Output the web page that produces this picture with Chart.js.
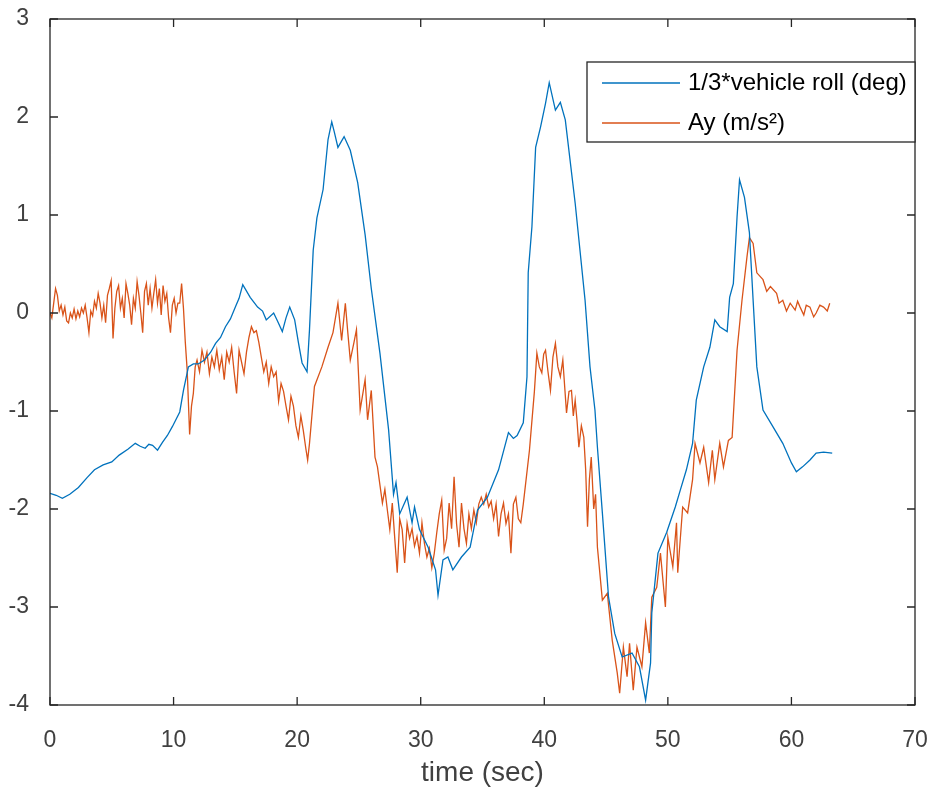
<!DOCTYPE html>
<html>
<head>
<meta charset="utf-8">
<title>vehicle roll vs Ay</title>
<script src="https://cdn.jsdelivr.net/npm/chart.js@4.4.1/dist/chart.umd.min.js"></script>
<style>
  body { margin: 0; background: #fff; }
  canvas { display: block; }
</style>
</head>
<body>
<canvas id="rollChart" width="935" height="792"></canvas>
<script>
// 1/3*vehicle roll (deg)
const rollTime = [0.0, 0.5, 1.0, 1.6, 2.3, 3.0, 3.6, 4.3, 5.0, 5.6, 6.3, 6.9, 7.3, 7.7, 8.0, 8.3, 8.7, 9.1, 9.5, 9.9,
  10.5, 10.8, 11.2, 11.6, 12.0, 12.5, 13.0, 13.4, 13.8, 14.2, 14.6, 15.0, 15.3, 15.6, 16.2, 16.8, 17.2, 17.5, 18.1, 18.4,
  18.8, 19.1, 19.4, 19.8, 20.1, 20.4, 20.8, 21.0, 21.3, 21.6, 22.1, 22.5, 22.8, 23.0, 23.3, 23.8, 24.3, 24.9, 25.5, 26.0,
  26.7, 27.4, 27.8, 28.0, 28.3, 28.9, 29.3, 29.5, 29.9, 30.6, 31.2, 31.4, 31.8, 32.2, 32.6, 33.3, 34.0, 34.6, 35.4, 36.3,
  37.1, 37.5, 37.8, 38.3, 38.6, 38.7, 39.0, 39.3, 39.7, 40.1, 40.4, 40.9, 41.3, 41.7, 42.5, 43.3, 43.7, 44.1, 44.3, 44.7,
  45.2, 45.7, 46.3, 47.1, 47.7, 48.2, 48.6, 48.7, 49.2, 49.9, 50.6, 51.0, 51.5, 52.0, 52.3, 52.9, 53.4, 53.8, 54.2, 54.8,
  55.0, 55.3, 55.6, 55.8, 56.2, 56.6, 56.9, 57.2, 57.7, 58.5, 59.3, 60.0, 60.4, 60.9, 61.5, 62.0, 62.6, 63.3];
const rollValues = [-1.84, -1.86, -1.89, -1.85, -1.78, -1.68, -1.60, -1.55, -1.52, -1.45, -1.39, -1.33, -1.36, -1.38, -1.34, -1.35, -1.40, -1.32, -1.25, -1.16,
  -1.01, -0.79, -0.55, -0.52, -0.52, -0.48, -0.40, -0.31, -0.25, -0.14, -0.06, 0.06, 0.15, 0.29, 0.16, 0.06, 0.02, -0.07, 0.00, -0.08,
  -0.19, -0.05, 0.06, -0.07, -0.30, -0.51, -0.60, -0.17, 0.64, 0.97, 1.26, 1.77, 1.95, 1.85, 1.69, 1.80, 1.66, 1.33, 0.80, 0.25,
  -0.41, -1.19, -1.85, -1.73, -2.05, -1.88, -2.14, -1.98, -2.21, -2.39, -2.62, -2.88, -2.52, -2.49, -2.62, -2.49, -2.39, -2.01, -1.88, -1.60,
  -1.22, -1.28, -1.25, -1.12, -0.65, 0.41, 0.88, 1.69, 1.90, 2.14, 2.35, 2.07, 2.15, 1.97, 1.12, 0.13, -0.55, -0.99, -1.37, -2.04,
  -2.90, -3.27, -3.51, -3.47, -3.61, -3.95, -3.57, -3.06, -2.45, -2.24, -1.98, -1.81, -1.60, -1.33, -0.89, -0.55, -0.35, -0.07, -0.14, -0.19,
  0.16, 0.30, 0.98, 1.36, 1.18, 0.82, 0.13, -0.55, -0.99, -1.16, -1.33, -1.53, -1.62, -1.57, -1.50, -1.43, -1.42, -1.43];

// Ay (m/s^2)
const ayTime = [
  0.00, 0.15, 0.30, 0.45, 0.60, 0.75, 0.90, 1.05, 1.20, 1.35,
  1.50, 1.65, 1.80, 1.95, 2.10, 2.25, 2.40, 2.55, 2.70, 2.85,
  3.00, 3.15, 3.30, 3.45, 3.60, 3.75, 3.90, 4.05, 4.20, 4.35,
  4.50, 4.65, 4.80, 4.95, 5.10, 5.25, 5.40, 5.55, 5.70, 5.85,
  6.00, 6.15, 6.30, 6.45, 6.60, 6.75, 6.90, 7.05, 7.20, 7.35,
  7.50, 7.65, 7.80, 7.95, 8.10, 8.25, 8.40, 8.55, 8.70, 8.85,
  9.00, 9.15, 9.30, 9.45, 9.60, 9.75, 9.90, 10.05, 10.20, 10.35,
  10.50, 10.65, 10.80,
  10.95, 11.10, 11.30, 11.45, 11.60, 11.75,
  11.9, 12.1, 12.3, 12.5, 12.7, 12.9, 13.1, 13.3, 13.5, 13.7,
  13.9, 14.1, 14.3, 14.5, 14.7, 14.9, 15.1, 15.3, 15.5, 15.7,
  15.9, 16.1, 16.3, 16.5, 16.7, 16.9, 17.1, 17.3, 17.5, 17.7,
  17.9, 18.1, 18.3, 18.5, 18.7, 18.9, 19.1, 19.3, 19.5, 19.7,
  19.9, 20.1, 20.3, 20.5, 20.7, 20.85, 21.0,
  21.4, 22.0, 22.5, 22.9, 23.1, 23.3, 23.6, 23.9, 24.1, 24.3,
  24.6, 24.8, 25.1, 25.5, 25.7, 26.0, 26.3, 26.5,
  26.9, 27.1, 27.3, 27.5, 27.7, 27.9, 28.1, 28.3, 28.5, 28.7,
  28.9, 29.1, 29.3, 29.5, 29.7, 29.9, 30.1, 30.3, 30.5, 30.7,
  30.9, 31.1, 31.3, 31.5, 31.7, 31.9, 32.1, 32.3, 32.5, 32.7,
  32.9, 33.1, 33.3, 33.5, 33.7, 33.9, 34.1, 34.3, 34.5, 34.7,
  34.9, 35.1, 35.3, 35.5, 35.7, 35.9, 36.1, 36.3, 36.5, 36.7,
  36.9, 37.1, 37.3, 37.5, 37.7, 37.9, 38.1, 38.3,
  38.8, 39.2, 39.4, 39.6, 39.8, 39.95, 40.1, 40.3, 40.5, 40.7,
  40.9, 41.1, 41.3, 41.5, 41.65, 41.8, 42.0, 42.2, 42.35, 42.5,
  42.65, 42.8, 43.0, 43.2, 43.35, 43.5, 43.65, 43.8, 44.0, 44.15,
  44.3, 44.7, 45.1, 45.5, 45.9, 46.1, 46.4, 46.7, 46.9, 47.2,
  47.5, 47.9, 48.2, 48.5, 48.7, 49.1, 49.4, 49.8, 50.0, 50.4,
  50.7, 50.8, 51.2, 51.6, 52.0, 52.2, 52.6, 52.9, 53.3, 53.6,
  53.8, 54.2, 54.5, 54.9, 55.2, 55.6, 56.0, 56.4, 56.6, 56.9,
  57.2, 57.7, 58.0, 58.3, 58.8, 59.0, 59.3, 59.6, 59.9, 60.3,
  60.5, 60.7, 61.0, 61.2, 61.5, 61.8, 62.0, 62.3, 62.6, 62.9,
  63.1];
const ayValues = [
  0.00, -0.05, 0.10, 0.25, 0.18, 0.02, 0.08, -0.02, 0.06, -0.08,
  -0.10, 0.00, -0.05, 0.04, -0.06, 0.02, -0.04, 0.05, 0.00, 0.08,
  -0.05, -0.20, 0.02, -0.03, 0.12, 0.05, 0.20, 0.10, -0.05, 0.08,
  -0.10, 0.18, 0.25, 0.33, -0.26, 0.05, 0.22, 0.28, 0.05, 0.15,
  -0.05, 0.30, 0.20, 0.08, -0.12, 0.15, 0.05, 0.32, 0.18, 0.00,
  -0.20, 0.22, 0.30, 0.08, 0.25, 0.05, 0.20, 0.34, 0.10, 0.25,
  -0.02, 0.28, 0.12, 0.20, -0.05, -0.20, 0.08, 0.15, 0.00, 0.10,
  0.10, 0.30, 0.05,
  -0.30, -0.58, -1.24, -0.95, -0.82, -0.55,
  -0.48, -0.60, -0.38, -0.50, -0.40, -0.62, -0.45, -0.55, -0.38, -0.58,
  -0.45, -0.68, -0.40, -0.50, -0.35, -0.60, -0.82, -0.38, -0.50, -0.62,
  -0.40, -0.25, -0.14, -0.20, -0.18, -0.30, -0.45, -0.60, -0.50, -0.72,
  -0.55, -0.65, -0.60, -0.90, -0.72, -0.80, -0.95, -1.09, -0.85, -0.95,
  -1.15, -1.27, -1.05, -1.20, -1.38, -1.50, -1.33,
  -0.75, -0.55, -0.35, -0.20, -0.05, 0.10, -0.28, 0.10, -0.20, -0.48,
  -0.30, -0.17, -0.99, -0.68, -1.09, -0.79, -1.47, -1.57,
  -1.94, -1.80, -2.01, -2.21, -1.94, -2.30, -2.65, -2.10, -2.21, -2.55,
  -2.15, -2.30, -2.20, -2.38, -2.28, -2.45, -2.14, -2.35, -2.49, -2.40,
  -2.60, -2.45, -2.24, -2.05, -1.91, -2.42, -2.30, -1.94, -2.20, -1.67,
  -2.15, -2.39, -1.94, -2.20, -2.35, -2.05, -2.20, -2.01, -2.14, -1.95,
  -1.88, -1.95, -1.85, -1.98, -1.92, -2.10, -1.95, -2.28, -2.05, -1.94,
  -2.15, -2.05, -2.45, -1.95, -1.88, -2.10, -2.14, -1.95,
  -1.40, -0.80, -0.41, -0.55, -0.61, -0.42, -0.38, -0.60, -0.79, -0.45,
  -0.31, -0.55, -0.65, -0.48, -0.75, -1.02, -0.80, -0.79, -1.05, -0.89,
  -1.10, -1.37, -1.15, -1.27, -1.60, -2.18, -1.70, -1.47, -2.00, -1.85,
  -2.39, -2.93, -2.86, -3.34, -3.67, -3.88, -3.41, -3.71, -3.37, -3.85,
  -3.41, -3.61, -3.16, -3.47, -2.90, -2.80, -2.45, -3.00, -2.29, -2.59,
  -2.14, -2.65, -1.98, -2.04, -1.70, -1.33, -1.53, -1.37, -1.73, -1.40,
  -1.70, -1.33, -1.57, -1.30, -1.27, -0.38, 0.13, 0.57, 0.77, 0.71,
  0.41, 0.34, 0.22, 0.27, 0.20, 0.10, 0.13, 0.02, 0.10, 0.03,
  0.12, 0.06, -0.02, 0.08, 0.06, -0.04, 0.00, 0.08, 0.06, 0.02,
  0.10];

const xTicks = [0, 10, 20, 30, 40, 50, 60, 70];
const yTicks = [-4, -3, -2, -1, 0, 1, 2, 3];

const fontFamily = "'Liberation Sans', Arial, sans-serif";
const axisColor = '#262626';

// parovi (vrijeme, vrijednost)
function toPoints(times, values) {
  return times.map((t, i) => ({ x: t, y: values[i] }));
}

// bez dodatnog razmaka oko osi
function noPadding(scale) {
  scale.paddingTop = 0;
  scale.paddingBottom = 0;
  scale.paddingLeft = 0;
  scale.paddingRight = 0;
}

// okvir, unutarnje crtice i legenda (MATLAB stil)
const matlabFrame = {
  id: 'matlabFrame',
  afterDraw(chart) {
    const { ctx, chartArea: a, scales } = chart;
    const tickLen = 8;
    ctx.save();
    ctx.strokeStyle = axisColor;
    ctx.lineWidth = 1.3;
    ctx.strokeRect(a.left, a.top, a.right - a.left, a.bottom - a.top);

    ctx.beginPath();
    xTicks.forEach(v => {
      const px = scales.x.getPixelForValue(v);
      ctx.moveTo(px, a.bottom); ctx.lineTo(px, a.bottom - tickLen);
      ctx.moveTo(px, a.top); ctx.lineTo(px, a.top + tickLen);
    });
    yTicks.forEach(v => {
      const py = scales.y.getPixelForValue(v);
      ctx.moveTo(a.left, py); ctx.lineTo(a.left + tickLen, py);
      ctx.moveTo(a.right, py); ctx.lineTo(a.right - tickLen, py);
    });
    ctx.stroke();

    // legenda
    const box = { left: a.right - 328, top: a.top + 43, width: 328, height: 80 };
    ctx.fillStyle = '#fff';
    ctx.fillRect(box.left, box.top, box.width, box.height);
    ctx.strokeStyle = axisColor;
    ctx.lineWidth = 1.3;
    ctx.strokeRect(box.left, box.top, box.width, box.height);
    ctx.font = '24px ' + fontFamily;
    ctx.textBaseline = 'middle';
    chart.data.datasets.forEach((ds, i) => {
      const y = box.top + 21 + i * 40;
      ctx.strokeStyle = ds.borderColor;
      ctx.lineWidth = 1.5;
      ctx.beginPath();
      ctx.moveTo(box.left + 15, y);
      ctx.lineTo(box.left + 93, y);
      ctx.stroke();
      ctx.fillStyle = '#000';
      ctx.fillText(ds.label, box.left + 101, y);
    });
    ctx.restore();
  }
};

const ctx = document.getElementById('rollChart').getContext('2d');
const chart = new Chart(ctx, {
  type: 'line',
  data: {
    datasets: [{
      label: '1/3*vehicle roll (deg)',
      data: toPoints(rollTime, rollValues),
      borderColor: '#0072BD',
      borderWidth: 1.3,
      pointRadius: 0,
      tension: 0,
      fill: false
    }, {
      label: 'Ay (m/s²)',
      data: toPoints(ayTime, ayValues),
      borderColor: '#D95319',
      borderWidth: 1.3,
      pointRadius: 0,
      tension: 0,
      fill: false
    }]
  },
  options: {
    responsive: false,
    animation: false,
    layout: { padding: { top: 19, right: 20, left: 0, bottom: 0 } },
    plugins: {
      legend: { display: false },
      tooltip: { enabled: false }
    },
    scales: {
      x: {
        type: 'linear',
        min: 0,
        max: 70,
        afterFit(scale) { scale.height = 87; noPadding(scale); },
        afterBuildTicks(scale) { scale.ticks = xTicks.map(v => ({ value: v })); },
        grid: { display: false },
        border: { display: false },
        ticks: { padding: 14, color: '#404040', font: { family: fontFamily, size: 23 }, maxRotation: 0 },
        title: {
          display: true,
          text: 'time (sec)',
          color: '#404040',
          font: { family: fontFamily, size: 28 },
          padding: { top: 0, bottom: 2 }
        }
      },
      y: {
        min: -4,
        max: 3,
        afterFit(scale) { scale.width = 50; noPadding(scale); },
        afterBuildTicks(scale) { scale.ticks = yTicks.map(v => ({ value: v })); },
        grid: { display: false },
        border: { display: false },
        ticks: { padding: 13, color: '#404040', font: { family: fontFamily, size: 23 } }
      }
    }
  },
  plugins: [matlabFrame]
});
</script>
</body>
</html>
